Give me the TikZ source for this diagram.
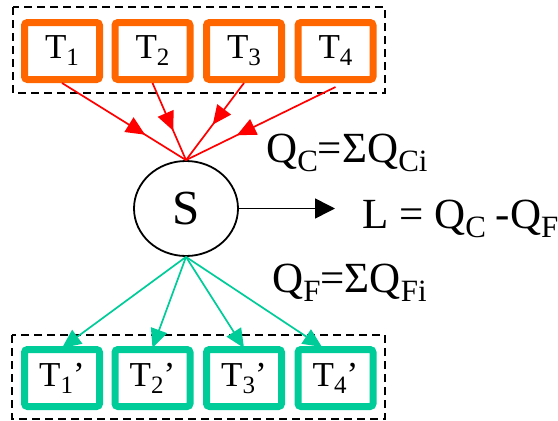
\documentclass[tikz,border=0pt]{standalone}
\usepackage{fontspec}
\setmainfont{Liberation Serif}
\usetikzlibrary{arrows.meta,shapes.geometric,decorations.markings}
\definecolor{hotorange}{HTML}{FF6600}
\definecolor{coldgreen}{HTML}{00CC99}
\definecolor{flowred}{HTML}{FF0000}
% lowered subscript in text mode: #1 size, #2 drop, #3 text
\newcommand\lowsub[3]{\raisebox{-#2}{\fontsize{#1}{#1}\selectfont #3}}
\newcommand\tsub[1]{\lowsub{25pt}{7pt}{#1}}
\newcommand\qsub[1]{\lowsub{31pt}{9pt}{#1}}
\tikzset{heattip/.tip={Triangle[length=19pt,width=17pt]}}
\begin{document}
\begin{tikzpicture}[x=1pt,y=-1pt,
  tank/.style={draw, rounded corners=3pt, line width=7pt, minimum width=75pt,
    minimum height=57pt, inner sep=0pt, font=\fontsize{35pt}{35pt}\selectfont},
  hot/.style={tank, draw=hotorange},
  cold/.style={tank, draw=coldgreen},
  group/.style={draw, dashed, line width=1.6pt, dash pattern=on 8pt off 5pt},
  inflow/.style={draw=flowred, line width=1.7pt, postaction={decorate},
    decoration={markings, mark=at position #1 with {\arrow[flowred]{heattip}}}},
  outflow/.style={draw=coldgreen, line width=1.7pt, -{heattip}},
  eq/.style={anchor=base west, inner sep=0pt, font=\fontsize{43pt}{43pt}\selectfont}]
\useasboundingbox (0,0) rectangle (558,421);

% groups of reservoirs
\draw[group] (13,7) rectangle (385,93);
\draw[group] (12,335) rectangle (385,419);

% hot reservoirs
\node[hot] (t1) at (62,51) {T\tsub{1}};
\node[hot] (t2) at (152.5,51) {T\tsub{2}};
\node[hot] (t3) at (244,51) {T\tsub{3}};
\node[hot] (t4) at (335.5,51) {T\tsub{4}};

% cold reservoirs
\node[cold] (b1) at (62,378) {T\tsub{1}’};
\node[cold] (b2) at (152.5,378) {T\tsub{2}’};
\node[cold] (b3) at (244,378) {T\tsub{3}’};
\node[cold] (b4) at (335.5,378) {T\tsub{4}’};

% system
\node[ellipse, draw, line width=1.8pt, minimum width=104pt, minimum height=95pt,
  inner sep=0pt, font=\fontsize{49pt}{49pt}\selectfont] (s) at (186,208.5) {S};

% heat flows in
\coordinate (h4) at ([yshift=-4pt]t4.south);
\draw[inflow=0.67] (t1.south) -- (s.north);
\draw[inflow=0.62] (t2.south) -- (s.north);
\draw[inflow=0.54] (t3.south) -- (s.north);
\draw[inflow=0.66] (h4) -- (s.north);

% heat flows out
\coordinate (c4) at ([xshift=-13.5pt,yshift=-1pt]b4.north);
\draw[outflow] (s.south) -- ([yshift=-2pt]b1.north);
\draw[outflow] (s.south) -- ([yshift=-2pt]b2.north);
\draw[outflow] (s.south) -- ([yshift=-2pt]b3.north);
\draw[outflow] (s.south) -- (c4);

% work output
\coordinate (w) at (335,208.5);
\draw[line width=1.6pt, -{Triangle[length=20pt,width=20pt]}] (s.east) -- (w);

% balance relations
\node[eq] (qc) at (266,162) {Q\qsub{C}=ΣQ\qsub{Ci}};
\node[eq] (lw) at (362,228) {L = Q\qsub{C}\hspace{-1pt} -Q\qsub{F}};
\node[eq] (qf) at (272,292) {Q\qsub{F}=ΣQ\qsub{Fi}};
\end{tikzpicture}
\end{document}
